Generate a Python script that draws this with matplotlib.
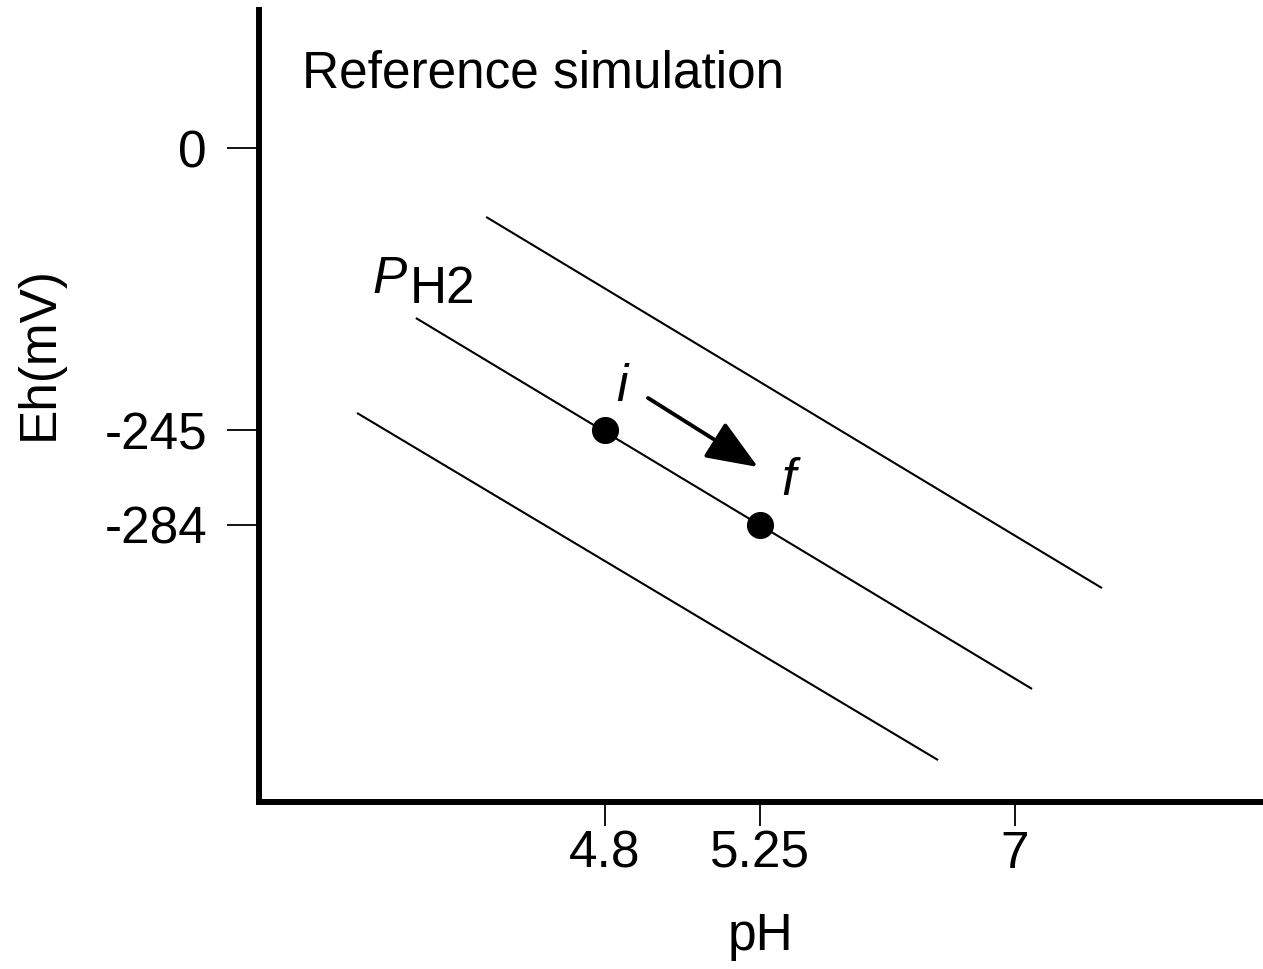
import numpy as np
import matplotlib
matplotlib.use("Agg")
import matplotlib.pyplot as plt

# tick values (schematic, not linearly spaced)
ph_ticks = [4.8, 5.25, 7]
eh_ticks = [-284, -245, 0]

# initial / final state on the P_H2 line
ph_points = [4.8, 5.25]
eh_points = [-245, -284]

# the three iso-P_H2 lines (start, end)
ph_upper = [4.455, 7.597]
eh_upper = [-59.9, -309.9]
ph_mid = [4.251, 7.117]
eh_mid = [-147.7, -351.3]
ph_low = [4.080, 6.472]
eh_low = [-230.2, -380.5]

# arrow i -> f
arrow_tail = (4.925, -217.2)
arrow_tip = (5.244, -260.2)


def piecewise(xp, fp):
    xp = np.asarray(xp, float)
    fp = np.asarray(fp, float)
    s0 = (fp[1] - fp[0]) / (xp[1] - xp[0])
    s1 = (fp[-1] - fp[-2]) / (xp[-1] - xp[-2])

    def f(v):
        v = np.asarray(v, float)
        out = np.interp(v, xp, fp)
        out = np.where(v < xp[0], fp[0] + (v - xp[0]) * s0, out)
        out = np.where(v > xp[-1], fp[-1] + (v - xp[-1]) * s1, out)
        return out
    return f


# pixel-like positions of the ticks on the schematic axes
x_pos = [605, 760, 1015]
y_pos = [-525, -430, -148]
x_fwd = piecewise(ph_ticks, x_pos)
x_inv = piecewise(x_pos, ph_ticks)
y_fwd = piecewise(eh_ticks, y_pos)
y_inv = piecewise(y_pos, eh_ticks)

plt.rcParams['font.family'] = ['Liberation Sans', 'DejaVu Sans']
fs = 37

fig = plt.figure(figsize=(12.63, 9.69), dpi=100)
ax = fig.add_axes([258.5 / 1263, 1 - 802 / 969, 1 - 258.5 / 1263, (802 - 10) / 969])
ax.set_xscale('function', functions=(x_fwd, x_inv))
ax.set_yscale('function', functions=(y_fwd, y_inv))
ax.set_xlim(float(x_inv(258.5)), float(x_inv(1263)))
ax.set_ylim(float(y_inv(-802)), float(y_inv(-10)))

for px, ey in [(ph_upper, eh_upper), (ph_mid, eh_mid), (ph_low, eh_low)]:
    ax.plot(px, ey, color='black', lw=1.5, solid_capstyle='butt')

ax.plot(ph_points, eh_points, 'o', color='black', ms=18.5, zorder=5)

ax.annotate('', xy=arrow_tip, xytext=arrow_tail,
            arrowprops=dict(arrowstyle='-|>,head_length=0.8,head_width=0.32',
                            mutation_scale=40, color='black', lw=2.8,
                            shrinkA=0, shrinkB=0))

ax.text(4.849, -208.5, 'i', style='italic', fontsize=fs, ha='center', va='center')
ax.text(5.442, -266.3, 'f', style='italic', fontsize=fs, ha='center', va='center')
ax.text(4.124, -126.0, 'P', style='italic', fontsize=fs, ha='left', va='baseline')
ax.text(4.234, -134.7, 'H2', fontsize=fs, ha='left', va='baseline')

for side in ['top', 'right']:
    ax.spines[side].set_visible(False)
for side in ['left', 'bottom']:
    ax.spines[side].set_linewidth(4.3)
    ax.spines[side].set_capstyle('projecting')

ax.set_xticks(ph_ticks)
ax.set_xticklabels(['4.8', '5.25', '7'])
ax.set_yticks(eh_ticks)
ax.set_yticklabels(['-284', '-245', '0'])
ax.xaxis.set_minor_locator(matplotlib.ticker.NullLocator())
ax.yaxis.set_minor_locator(matplotlib.ticker.NullLocator())
ax.tick_params(axis='x', direction='out', length=17, width=1.3, pad=3, labelsize=fs)
ax.tick_params(axis='y', direction='out', length=23, width=1.3, pad=14, labelsize=fs)

ax.set_xlabel('pH', fontsize=fs, labelpad=24)
fig.text(39 / 1263, 1 - 353 / 969, 'Eh(mV)', rotation=90, fontsize=fs,
         ha='center', va='center')
fig.text(302 / 1263, 1 - 87 / 969, 'Reference simulation', fontsize=fs,
         ha='left', va='baseline')

fig.savefig('out.png', dpi=100)
